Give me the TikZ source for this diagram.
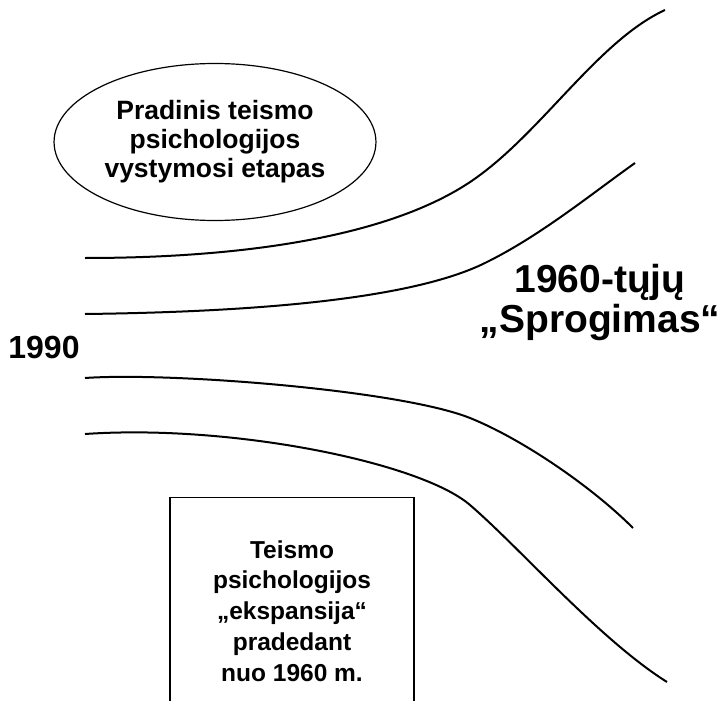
\documentclass[tikz,border=0pt]{standalone}
\usepackage{fontspec}
\setmainfont{Liberation Sans}
\usetikzlibrary{shapes.geometric}

\begin{document}
\begin{tikzpicture}[x=1pt,y=-1pt,font=\bfseries,
  flow/.style={line width=2pt},
  frame/.style={draw,line width=1.2pt}]
\useasboundingbox (0,0) rectangle (721,701);
\clip (0,0) rectangle (721,701);

\begin{scope}
\node[frame,ellipse,minimum width=304pt,minimum height=157pt,align=center,
  font={\fontsize{26.5}{29}\selectfont\bfseries}] (early) at (215,142)
  {Pradinis teismo\\psichologijos\\vystymosi etapas};

\node[frame,rectangle,minimum width=244pt,minimum height=215pt,anchor=north] (box) at (292,497) {};
\node[align=center,font={\fontsize{24.5}{30.8}\selectfont\bfseries}] (expansion) at (292,611)
  {Teismo\\psichologijos\\„ekspansija“\\pradedant\\nuo 1960 m.};
\end{scope}

\begin{scope}
\node[anchor=base,font={\fontsize{32}{36}\selectfont\bfseries}] (year) at (44,358) {1990};
\node[anchor=base,align=center,font={\fontsize{39}{40}\selectfont\bfseries}] (boom) at (600,332)
  {1960-tųjų\\„Sprogimas“};
\end{scope}

\begin{scope}
\draw[flow] (85,258) .. controls (250,258) and (400,235) .. (480,175)
  .. controls (545,127) and (600,40) .. (665,10);
\draw[flow] (85,314) .. controls (250,312) and (410,300) .. (485,263)
  .. controls (540,236) and (590,195) .. (635,163);
\draw[flow] (85,378) .. controls (170,372) and (400,390) .. (470,418)
  .. controls (520,438) and (590,485) .. (633,528);
\draw[flow] (85,434) .. controls (230,424) and (420,462) .. (470,505)
  .. controls (520,548) and (600,640) .. (667,682);
\end{scope}

\end{tikzpicture}
\end{document}
